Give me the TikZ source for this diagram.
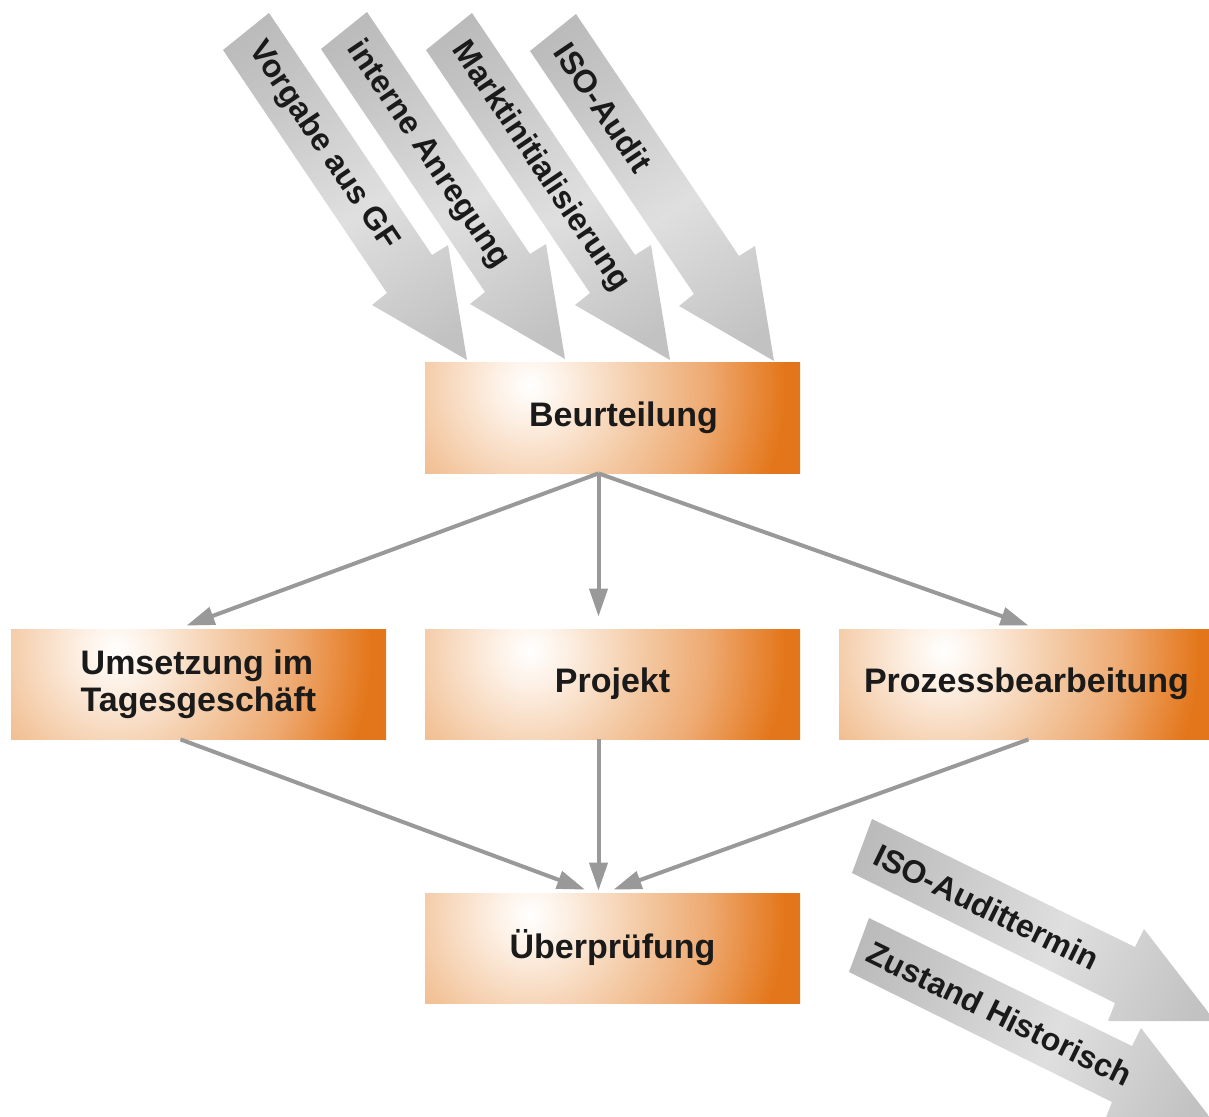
\documentclass[tikz,border=0pt]{standalone}
\usepackage{fontspec}
\setmainfont{Liberation Sans}
\usetikzlibrary{arrows.meta}

\definecolor{boxorange}{HTML}{E3761A}
\definecolor{glowa}{HTML}{FDF1E6}
\definecolor{glowb}{HTML}{F3C7A0}
\definecolor{glowc}{HTML}{EEAA72}
\definecolor{glowd}{HTML}{E88A3C}
\definecolor{steeldark}{HTML}{A9A9A9}
\definecolor{steellight}{HTML}{DFDFDF}
\definecolor{steelmid}{HTML}{C2C2C2}
\definecolor{linkgray}{HTML}{999999}
\definecolor{textblack}{HTML}{1A1A1A}

\pgfdeclareradialshading{glow}{\pgfpoint{0bp}{0bp}}{color(0bp)=(white); color(2.8bp)=(glowa); color(9.8bp)=(glowb); color(14.8bp)=(glowc); color(18.7bp)=(glowd); color(21.3bp)=(boxorange); color(50bp)=(boxorange)}
\pgfdeclarehorizontalshading{steel}{100bp}{color(0bp)=(steeldark); color(30bp)=(steeldark!50!steellight); color(55bp)=(steellight); color(80bp)=(steelmid); color(100bp)=(steelmid)}

\begin{document}
\begin{tikzpicture}[x=0.5pt, y=-0.5pt, >={Triangle[length=14pt,width=9pt]},
        link/.style={->, draw=linkgray, line width=2pt}]
      \tikzstyle{stage} = [rectangle, minimum width=187.5pt, minimum height=55pt, inner sep=0pt,
        fill=glowb, text=textblack, font=\fontsize{17}{18.5}\selectfont\bfseries,
        path picture={\shade[shading=glow] ([xshift=-97.5pt,yshift=139pt]path picture bounding box.north west) rectangle ++(300pt,-300pt);}]
      \tikzstyle{bigarrow} = [shading=steel]
      \tikzstyle{arrowtext} = [font=\fontsize{16}{18}\selectfont\bfseries, text=textblack, anchor=west, inner sep=0pt]
      \useasboundingbox (0,0) rectangle (1209,1117);
      \clip (0,0) rectangle (1209,1117);
      \foreach \dx/\dy/\txt [count=\i] in {0/0/Vorgabe aus GF, 98/-1/interne Anregung, 203/0/Marktinitialisierung, 307/1/ISO-Audit}
      {
        \begin{scope}[shift={(\dx,\dy)}]
          \shade[bigarrow, shading angle=-56] (223,50) -- (269,13) -- (432,255) -- (448,245) -- (467,360) -- (372,305) -- (387,293) -- cycle;
          \node (in\i) [arrowtext, rotate=-56] at (255,45) {\txt};
        \end{scope}
      }
      \foreach \dx/\dy/\tx/\ty/\txt [count=\i] in {0/0/876/853/ISO-Audittermin, -3/99/872/851/Zustand Historisch}
      {
        \begin{scope}[shift={(\dx,\dy)}]
          \shade[bigarrow, shading angle=-26] (872,819) -- (1135,947) -- (1144,929) -- (1215,1021) -- (1108,1021) -- (1115,1003) -- (852,873) -- cycle;
          \node (out\i) [arrowtext, rotate=-26] at (\tx,\ty) {\txt};
        \end{scope}
      }
      \node (beur) [stage] at (612.5,418) {\hspace*{11pt}Beurteilung};
      \node (umsetz) [stage, align=left] at (198.5,684) {Umsetzung im\\Tagesgeschäft};
      \node (projekt) [stage] at (612.5,684) {Projekt};
      \node (prozess) [stage] at (1026.5,684) {Prozessbearbeitung};
      \node (ueber) [stage] at (612.5,948) {Überprüfung};
      \draw[link] ([xshift=-7pt]beur.south) -- ([xshift=-6pt,yshift=1.5pt]umsetz.north);
      \draw[link] ([xshift=-7pt]beur.south) -- ([xshift=-7pt,yshift=6pt]projekt.north);
      \draw[link] ([xshift=-7pt]beur.south) -- ([xshift=1pt,yshift=1.5pt]prozess.north);
      \draw[link] ([xshift=-9pt]umsetz.south) -- ([xshift=-13.75pt,yshift=1.5pt]ueber.north);
      \draw[link] ([xshift=-7pt]projekt.south) -- ([xshift=-7pt,yshift=1pt]ueber.north);
      \draw[link] ([xshift=1pt]prozess.south) -- ([xshift=0.5pt,yshift=1.5pt]ueber.north);
    \end{tikzpicture}
\end{document}
